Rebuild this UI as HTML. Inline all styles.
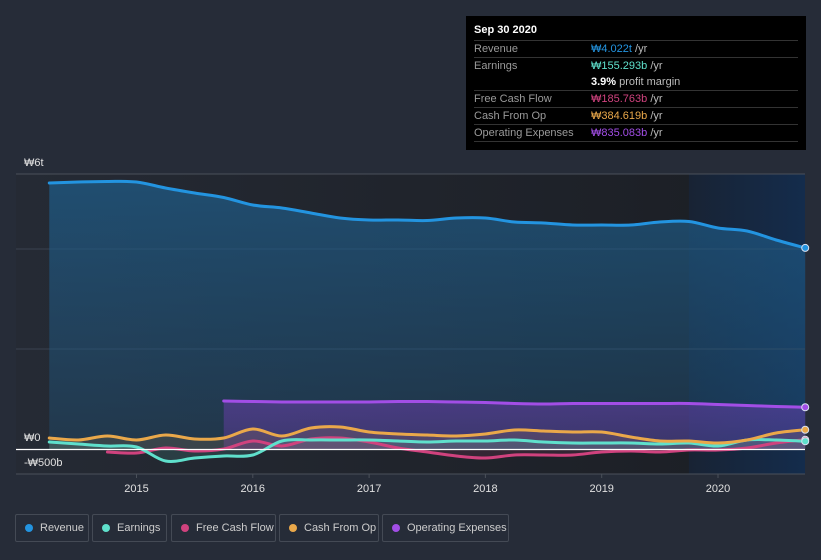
<!DOCTYPE html>
<html><head><meta charset="utf-8">
<style>
body{margin:0;width:821px;height:560px;background:#262c38;font-family:"Liberation Sans","Noto Sans CJK KR",sans-serif;overflow:hidden;position:relative}
svg{position:absolute;left:0;top:0}
.tt{position:absolute;left:466px;top:16px;width:340px;height:134px;background:#000;color:#fff;font-size:11px}
.tt .row{position:absolute;left:8px;width:324px;height:16px;line-height:16px;border-top:1px solid #333}
.tt .lab{position:absolute;left:0;color:#9a9a9a}
.tt .val{position:absolute;left:117px;color:#bbb}
.legend{position:absolute;top:514px;height:28px}
.li{position:absolute;top:0;height:26px;border:1px solid #444a55;border-radius:2px;color:#ccc;font-size:11px;line-height:26px}
.li .dot{position:absolute;top:9px;left:9px;width:8px;height:8px;border-radius:4px}
.li span.t{position:absolute;left:24px;white-space:nowrap}
</style></head><body>
<svg width="821" height="560">
<defs>
<linearGradient id="bg" x1="0" x2="1" y1="0" y2="0"><stop offset="0" stop-color="#252a34"/><stop offset="1" stop-color="#1b1e24"/></linearGradient>
<linearGradient id="hl" x1="0" x2="1" y1="0" y2="0"><stop offset="0" stop-color="#182334"/><stop offset="1" stop-color="#142c4c"/></linearGradient>
<linearGradient id="rf" x1="0" x2="0" y1="0" y2="1"><stop offset="0" stop-color="#1f5a85" stop-opacity="0.75"/><stop offset="1" stop-color="#1f5a85" stop-opacity="0.3"/></linearGradient>
<linearGradient id="of" x1="0" x2="0" y1="0" y2="1"><stop offset="0" stop-color="#7a3fc0" stop-opacity="0.45"/><stop offset="1" stop-color="#7a3fc0" stop-opacity="0.3"/></linearGradient>
</defs>
<rect x="16" y="174" width="789" height="300" fill="url(#bg)"/>
<rect id="hlr" y="174" height="300" fill="url(#hl)"/>
<g id="grid"></g>
<g id="fills"></g>
<g id="lines"></g>
<g id="axis"></g>
</svg>

<div class="tt">
<div style="position:absolute;left:8px;top:8px;font-weight:bold;font-size:11px">Sep 30 2020</div>
<div class="row" style="top:24px"><span class="lab">Revenue</span><span class="val"><b style="color:#2394e0;font-weight:normal">₩4.022t</b> /yr</span></div>
<div class="row" style="top:41px;height:32px"><span class="lab">Earnings</span><span class="val"><b style="color:#5fe0cc;font-weight:normal">₩155.293b</b> /yr</span><span class="val" style="top:16px"><b style="color:#fff">3.9%</b> profit margin</span></div>
<div class="row" style="top:74px"><span class="lab">Free Cash Flow</span><span class="val"><b style="color:#d0427e;font-weight:normal">₩185.763b</b> /yr</span></div>
<div class="row" style="top:91px"><span class="lab">Cash From Op</span><span class="val"><b style="color:#eaa84a;font-weight:normal">₩384.619b</b> /yr</span></div>
<div class="row" style="top:108px;border-bottom:1px solid #333"><span class="lab">Operating Expenses</span><span class="val"><b style="color:#a24ee6;font-weight:normal">₩835.083b</b> /yr</span></div>
</div>

<div class="legend">
<div class="li" style="left:15px;width:72px"><span class="dot" style="background:#2394e0"></span><span class="t">Revenue</span></div>
<div class="li" style="left:92px;width:73px"><span class="dot" style="background:#5fe0cc"></span><span class="t">Earnings</span></div>
<div class="li" style="left:171px;width:103px"><span class="dot" style="background:#d0427e"></span><span class="t">Free Cash Flow</span></div>
<div class="li" style="left:279px;width:98px"><span class="dot" style="background:#eaa84a"></span><span class="t">Cash From Op</span></div>
<div class="li" style="left:382px;width:125px"><span class="dot" style="background:#a24ee6"></span><span class="t">Operating Expenses</span></div>
</div>

<script>
const revenue=[5.32,5.34,5.35,5.34,5.22,5.12,5.03,4.88,4.82,4.72,4.62,4.58,4.58,4.57,4.62,4.62,4.54,4.52,4.48,4.48,4.48,4.54,4.55,4.42,4.36,4.18,4.022];
const earnings=[0.14,0.10,0.06,0.04,-0.24,-0.18,-0.14,-0.12,0.16,0.18,0.18,0.18,0.16,0.14,0.16,0.16,0.18,0.14,0.12,0.12,0.12,0.10,0.12,0.06,0.18,0.18,0.155];
const cashFromOp=[0.22,0.18,0.26,0.18,0.28,0.20,0.22,0.40,0.26,0.42,0.44,0.34,0.30,0.28,0.26,0.30,0.38,0.36,0.34,0.34,0.24,0.16,0.16,0.12,0.18,0.32,0.385];
const freeCashFlow=[-0.06,-0.08,0.02,-0.04,0.00,0.16,0.06,0.20,0.22,0.14,0.02,-0.06,-0.14,-0.18,-0.12,-0.12,-0.12,-0.06,-0.04,-0.06,-0.02,-0.02,0.02,0.12,0.186];
const opex=[0.96,0.95,0.94,0.94,0.94,0.94,0.95,0.95,0.94,0.93,0.91,0.90,0.91,0.91,0.91,0.91,0.91,0.89,0.87,0.85,0.835];
const yTicks=[{v:6,l:"₩6t"},{v:0,l:"₩0"},{v:-0.5,l:"-₩500b"}];
const xTicks=[2015,2016,2017,2018,2019,2020];
const startRev=2014.25,startFcf=2014.75,startOpex=2015.75,highlightStart=2019.75;

const NS="http://www.w3.org/2000/svg";
const X=t=>136.5+(t-2015)*116.3;
const Y=v=>449-v*50;
function mk(tag,at,parent){const e=document.createElementNS(NS,tag);for(const k in at)e.setAttribute(k,at[k]);document.getElementById(parent).appendChild(e);return e;}
function pts(arr,s){return arr.map((v,i)=>[X(s+i*0.25),Y(v)]);}
function smooth(p){let d="M"+p[0][0]+","+p[0][1];for(let i=0;i<p.length-1;i++){const p0=p[i-1]||p[i],p1=p[i],p2=p[i+1],p3=p[i+2]||p2;const c1=[p1[0]+(p2[0]-p0[0])/6,p1[1]+(p2[1]-p0[1])/6],c2=[p2[0]-(p3[0]-p1[0])/6,p2[1]-(p3[1]-p1[1])/6];d+=" C"+c1+" "+c2+" "+p2;}return d;}

const hlRect=document.getElementById('hlr');hlRect.setAttribute('x',X(highlightStart));hlRect.setAttribute('width',805-X(highlightStart));

[Y(4),Y(2)].forEach(y=>{const g=mk('line',{x1:16,x2:805,y1:y,y2:y,stroke:'#3a4250','stroke-width':1},'grid');

});
const topBorder=mk('line',{x1:16,x2:805,y1:174,y2:174,stroke:'#4a505a','stroke-width':1},'grid');



const series=[
 {n:'revenue',a:revenue,s:startRev,c:'#2394e0',f:'url(#rf)'},
 {n:'operating-expenses',a:opex,s:startOpex,c:'#a24ee6',f:'url(#of)'},
 {n:'cash-from-op',a:cashFromOp,s:startRev,c:'#eaa84a',f:'rgba(234,168,74,0.12)'},
 {n:'earnings',a:earnings,s:startRev,c:'#5fe0cc',f:'rgba(95,224,204,0.12)'},
 {n:'free-cash-flow',a:freeCashFlow,s:startFcf,c:'#d0427e',f:'rgba(208,66,126,0.12)'}
];
series.forEach(s=>{const p=pts(s.a,s.s);const d=smooth(p);
 const fa=mk('path',{d:d+" L"+p[p.length-1][0]+","+Y(0)+" L"+p[0][0]+","+Y(0)+"Z",fill:s.f},'fills');
 
 
});
series.slice().reverse().forEach(s=>{const p=pts(s.a,s.s);
 const l=mk('path',{d:smooth(p),fill:'none',stroke:s.c,'stroke-width':3,'stroke-linejoin':'round','stroke-linecap':'round'},'lines');
 
 
 const last=p[p.length-1];
 const c=mk('circle',{cx:last[0],cy:last[1],r:3.5,fill:s.c,stroke:'#d8e0f0','stroke-width':1},'lines');
 
 
});
const z=mk('line',{x1:16,x2:805,y1:Y(0)+0.5,y2:Y(0)+0.5,stroke:'#ffffff','stroke-width':1.2},'axis');


const bl=mk('line',{x1:16,x2:805,y1:474,y2:474,stroke:'#4a505a','stroke-width':1},'axis');


yTicks.forEach(t=>{const e=mk('text',{x:24,y:Y(t.v)-8,fill:'#e0e0e0','font-size':11},'axis');e.textContent=t.l;
 if(t.v===6)e.setAttribute('y',166);
 
 });
xTicks.forEach(t=>{const tk=mk('line',{x1:X(t),x2:X(t),y1:474,y2:478,stroke:'#4a505a'},'axis');
 
 
 const e=mk('text',{x:X(t),y:492,fill:'#e0e0e0','font-size':11,'text-anchor':'middle'},'axis');e.textContent=t;
 
 });
</script>
</body></html>
